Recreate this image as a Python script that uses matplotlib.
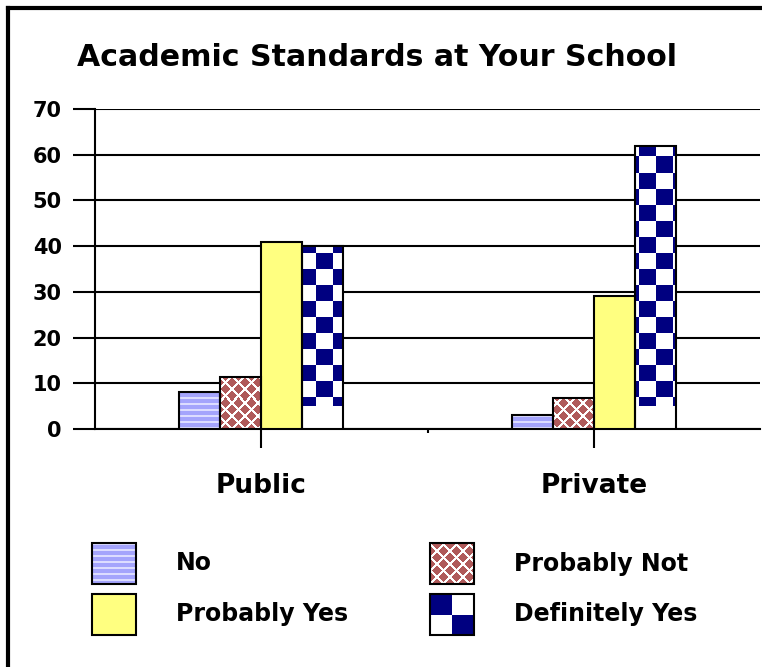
import numpy as np
import matplotlib
matplotlib.use("Agg")
import matplotlib.pyplot as plt
from matplotlib.colors import to_rgb
from matplotlib.patches import Rectangle

# survey answers, percent of respondents
groups = ["Public", "Private"]
series = ["No", "Probably Not", "Probably Yes", "Definitely Yes"]
no_vals = [8, 3]
prob_not_vals = [11.4, 6.7]
prob_yes_vals = [41, 29]
def_yes_vals = [40, 62]
yticks = [0, 10, 20, 30, 40, 50, 60, 70]


# pixel fill patterns (rows from the top)
def two_tone(mask, fg, bg):
    out = np.empty(mask.shape + (3,))
    out[:] = to_rgb(bg)
    out[mask] = to_rgb(fg)
    return out


def stripes(h, w):
    i, j = np.indices((h, w))
    return two_tone(i % 6 < 2, '#dcdcff', '#a4a4fc')


def lattice(h, w):
    i, j = np.indices((h, w))
    m = ((i + j) % 13 < 3) | ((i - j) % 13 < 3)
    return two_tone(m, 'white', '#b05a5a')


def checker(h, w, ch=16, cw=17):
    i, j = np.indices((h, w))
    return two_tone((i // ch + j // cw) % 2 == 0, '#000080', 'white')


def fill(ax, patches, img, extent, z):
    for p in patches:
        im = ax.imshow(img, extent=extent, origin='upper', aspect='auto',
                       interpolation='nearest', zorder=z)
        im.set_clip_path(p)


fig = plt.figure(figsize=(7.62, 6.67), dpi=100)
ax = fig.add_axes([95/762, 1-429/667, 665/762, 320/667])
H, W = 320, 665
full = (-0.5, 1.5, 0, 70)

x = np.arange(len(groups))
w = 0.1233
pos = [x - 1.5*w, x - 0.5*w, x + 0.5*w, x + 1.5*w]

b0 = ax.bar(pos[0], no_vals, w, color='#a4a4fc', lw=0, zorder=3)
fill(ax, b0.patches, stripes(H, W), full, 3.5)
b1 = ax.bar(pos[1], prob_not_vals, w, color='#b05a5a', lw=0, zorder=3)
fill(ax, b1.patches, lattice(H, W), full, 3.5)
ax.bar(pos[2], prob_yes_vals, w, color='#ffff80', lw=0, zorder=3)
b3 = ax.bar(pos[3], def_yes_vals, w, color='white', lw=0, zorder=3)
# checks stop a little above the baseline
fill(ax, b3.patches, checker(H - 23, W), (-0.5, 1.5, 5, 70), 3.5)
for vals, p in zip([no_vals, prob_not_vals, prob_yes_vals, def_yes_vals], pos):
    ax.bar(p, vals, w, fill=False, edgecolor='black', lw=1.5, zorder=4)

ax.set_xlim(-0.5, 1.5)
ax.set_ylim(0, 70)
ax.set_yticks(yticks)
ax.set_yticklabels([str(t) for t in yticks], fontsize=15, fontweight='bold')
ax.tick_params(axis='y', length=16, width=1.5, pad=8)
ax.set_xticks(x)
ax.set_xticklabels(groups, fontsize=19, fontweight='bold')
ax.tick_params(axis='x', length=14, width=1.5, pad=18)
ax.set_xticks([0.5], minor=True)
ax.tick_params(axis='x', which='minor', length=3, width=1.5)
ax.grid(axis='y', color='black', lw=1.5, zorder=1)
ax.set_axisbelow(True)
for s in ['top', 'right']:
    ax.spines[s].set_visible(False)
ax.spines['left'].set_linewidth(1.5)
ax.spines['bottom'].set_linewidth(1.5)

fig.text(377/762, 1-58/667, "Academic Standards at Your School", ha='center',
         va='center', fontsize=21.6, fontweight='bold')

# legend and frame drawn in pixel space
lg = fig.add_axes([0, 0, 1, 1], zorder=-1)
lg.set_xlim(0, 762)
lg.set_ylim(667, 0)
lg.axis('off')
lg.plot([8, 762], [8, 8], color='black', lw=3)
lg.plot([8, 8], [8, 667], color='black', lw=3)

sw, sh = 44, 41
spots = [(92, 543), (430, 543), (92, 594), (430, 594)]
looks = [stripes(sh, sw), lattice(sh, sw), None, checker(sh, sw, 21, 22)]
for name, (px, py), img in zip(series, spots, looks):
    r = lg.add_patch(Rectangle((px, py), sw, sh, facecolor='#ffff80', lw=0))
    if img is not None:
        fill(lg, [r], img, (px, px + sw, py + sh, py), 1)
    lg.add_patch(Rectangle((px, py), sw, sh, fill=False, edgecolor='black',
                           lw=1.5, zorder=2))
    lg.text(px + 84, py + sh/2, name, ha='left', va='center', fontsize=17,
            fontweight='bold')
lg.set_xlim(0, 762)
lg.set_ylim(667, 0)

fig.savefig('out.png', dpi=100)
